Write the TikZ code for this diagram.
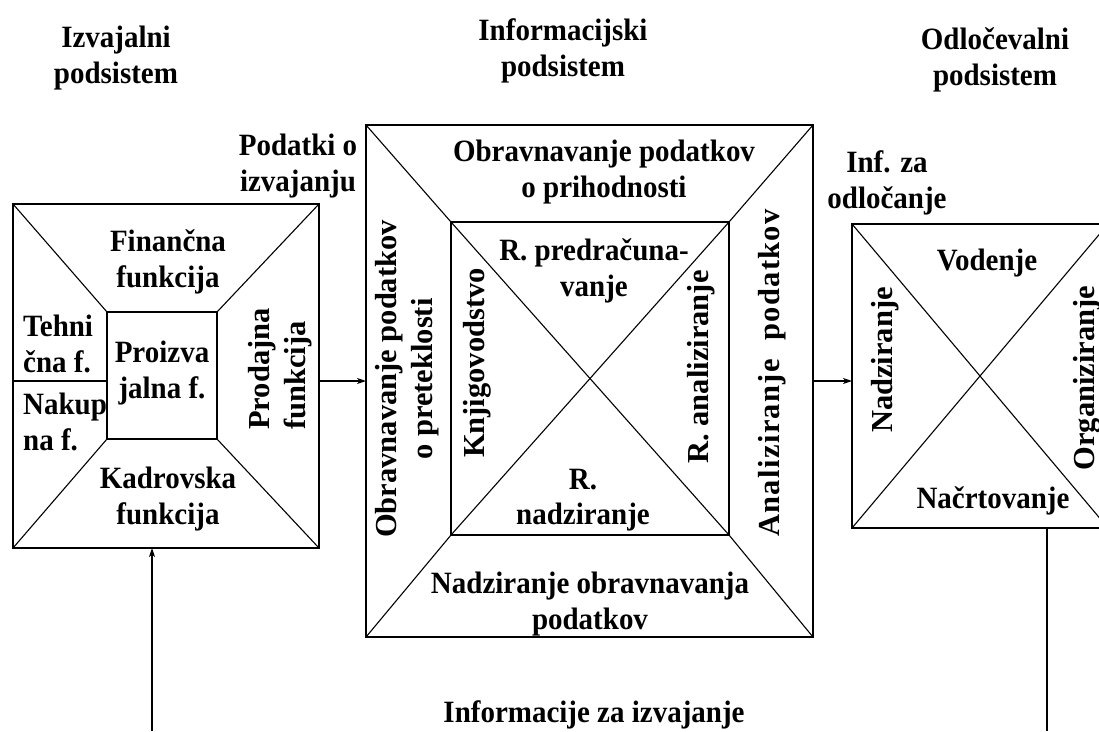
\documentclass[tikz,border=0pt]{standalone}
\usepackage{fontspec}
\setmainfont{Liberation Serif}
\newfontfamily\hfont[FakeStretch=0.935]{Liberation Serif}
\usetikzlibrary{arrows.meta}
\begin{document}
\begin{tikzpicture}[x=1pt,y=-1pt,
  box/.style={draw, line width=1.6pt, inner sep=0pt, outer sep=0pt},
  diag/.style={line width=1.1pt},
  conn/.style={line width=1.1pt, -{Stealth[length=9pt,width=6pt,inset=2.5pt]}},
  txt/.style={font=\hfont\fontsize{31}{35.5}\selectfont\bfseries, align=center, inner sep=0pt},
  vtxt/.style={font=\fontsize{30.5}{35.5}\selectfont\bfseries, align=center, inner sep=0pt, rotate=90}]
\useasboundingbox (0,0) rectangle (1099,731);
\clip (0,0) rectangle (1099,731);
% boxes
\node[box, minimum width=306pt, minimum height=344pt] (L) at (166,376) {};
\node[box, minimum width=110pt, minimum height=127pt] (Li) at (162,375.5) {};
\node[box, minimum width=447pt, minimum height=512pt] (M) at (589.5,381) {};
\node[box, minimum width=278pt, minimum height=313pt] (Mi) at (590,378.5) {};
\node[box, minimum width=256pt, minimum height=304pt] (R) at (980,376) {};
% diagonals
\draw[diag] (L.north west) -- (Li.north west) (L.north east) -- (Li.north east)
            (L.south west) -- (Li.south west) (L.south east) -- (Li.south east);
\draw[diag] (L.west |- M.west) -- (Li.west |- M.west);
\draw[diag] (M.north west) -- (Mi.north west) -- (Mi.south east) -- (M.south east);
\draw[diag] (M.south west) -- (Mi.south west) -- (Mi.north east) -- (M.north east);
\draw[diag] (R.north west) -- (R.south east) (R.south west) -- (R.north east);
% connectors
\draw[conn] (L.east |- M.west) -- (M.west);
\draw[conn] (M.east) -- (M.east -| R.west);
\coordinate (fbL) at (152,731);
\coordinate (fbR) at (1047,731);
\draw[conn] (fbL) -- (fbL |- L.south);
\draw[diag] (R.south -| fbR) -- (fbR);
% headings
\node[txt] (h1) at (116,58) {Izvajalni\\podsistem};
\node[txt] (h2) at (563,51) {Informacijski\\podsistem};
\node[txt] (h3) at (995,60) {Odločevalni\\podsistem};
\node[txt] (t1) at (298,166) {Podatki o\\izvajanju};
\node[txt] (t2) at (887,183) {Inf. za\\odločanje};
% left box
\node[txt] (l1) at (168,262) {Finančna\\funkcija};
\node[txt, align=left, anchor=west] (l2) at (23,344) {Tehni\\čna f.};
\node[txt, align=left, anchor=west] (l3) at (23,422) {Nakup\\na f.};
\node[txt] (l4) at (162,373) {Proizva\\jalna f.};
\node[vtxt, align=left] (l5) at (280,369) {Prodajna\\funkcija};
\node[txt] (l6) at (168,499) {Kadrovska\\funkcija};
% middle box
\node[txt] (m1) at (604,172) {Obravnavanje podatkov\\o prihodnosti};
\node[vtxt] (m2) at (407,379) {Obravnavanje podatkov\\o preteklosti};
\node[vtxt] (m3) at (477,363) {Knjigovodstvo};
\node[txt] (m4) at (594,271) {R. predračuna-\\vanje};
\node[vtxt] (m5) at (701,367) {R. analiziranje};
\node[txt] (m6) at (583,500) {R.\\nadziranje};
\node[vtxt] (m7) at (772,373) {\addfontfeature{LetterSpace=4.5}Analiziranje\hspace{0.3em} podatkov};
\node[txt] (m8) at (590,604) {Nadziranje obravnavanja\\podatkov};
% right box
\node[txt] (r1) at (987,263) {Vodenje};
\node[vtxt] (r2) at (885,360) {Nadziranje};
\node[txt] (r3) at (993,501) {Načrtovanje};
\node[vtxt] (r4) at (1087,378) {Organiziranje};
% bottom
\node[txt] (b1) at (594,715) {Informacije za izvajanje};
\end{tikzpicture}
\end{document}
